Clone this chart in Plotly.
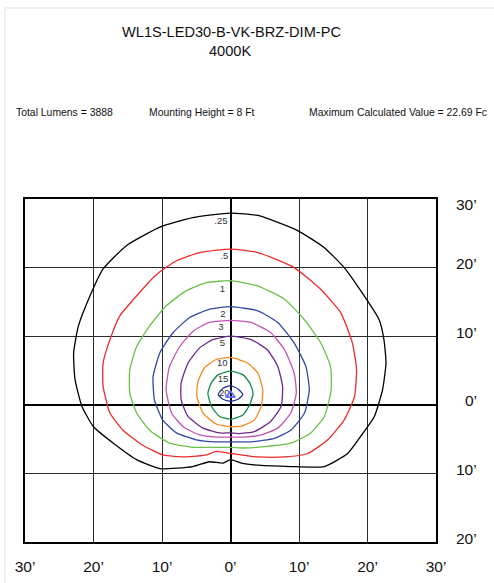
import plotly.graph_objects as go

# ---------------- data ----------------
title_line1 = "WL1S-LED30-B-VK-BRZ-DIM-PC"
title_line2 = "4000K"
info_texts = ["Total Lumens = 3888", "Mounting Height = 8 Ft", "Maximum Calculated Value = 22.69 Fc"]

x_tick_vals = [-30, -20, -10, 0, 10, 20, 30]
x_tick_text = ["30’", "20’", "10’", "0’", "10’", "20’", "30’"]
y_tick_vals = [30, 20, 10, 0, -10, -20]
y_tick_text = ["30’", "20’", "10’", "0’", "10’", "20’"]

contour_levels = [".25", ".5", "1", "2", "3", "5", "10", "15", "20"]
contour_colors = ["#000000", "#ee2a2a", "#6cc04a", "#3347a6", "#c055b4",
                  "#6a2a8c", "#f7891f", "#138a4a", "#25309a"]

c025_x = [0, -5.5, -10.3, -15.2, -18.6, -20.5, -22.2, -22.9, -22.7, -21.7, -20.0, -17.1, -13.7,
          -10.3, -5.5, -3.1, -1.1, 0, 1.6, 4.0, 8.8, 13.7, 17.1, 19.0, 21.0, 22.2, 22.7, 22.4,
          21.7, 19.5, 16.6, 13.7, 9.8, 4.0, 0]
c025_y = [27.95, 27.3, 25.9, 23.2, 19.8, 15.9, 11.5, 7.6, 3.7, -0.2, -3.2, -5.6, -8.0,
          -9.3, -9.0, -8.3, -8.5, -8.0, -8.5, -8.8, -9.0, -9.0, -7.1, -4.6, -1.7, 2.2, 6.1, 9.5,
          12.4, 15.9, 20.0, 22.9, 25.4, 27.6, 27.95]

c05_x = [0, -4.5, -7.9, -10.8, -13.7, -16.2, -17.6, -18.6, -18.6, -17.6, -15.7, -12.8, -9.9,
         -6.5, -3.5, -2.1, 0, 1.6, 4.0, 7.9, 11.3, 14.2, 16.6, 18.1, 18.4, 17.8, 16.1, 13.2,
         9.3, 4.0, 0]
c05_y = [22.7, 22.2, 21.0, 19.0, 15.9, 12.9, 9.5, 6.1, 2.7, -1.2, -3.7, -5.9, -7.3,
         -7.6, -7.3, -6.8, -7.1, -7.3, -7.6, -7.6, -7.1, -5.1, -2.2, 1.2, 5.1, 9.0, 13.4, 16.8,
         20.0, 22.2, 22.7]

c1_x = [0, -3.5, -6.5, -9.4, -11.8, -13.7, -14.7, -14.7, -13.7, -11.8, -8.9, -5.5, -2.1, 0,
        2.0, 5.0, 8.8, 11.7, 13.7, 14.7, 14.6, 13.2, 10.8, 7.9, 4.0, 0]
c1_y = [18.1, 17.8, 16.6, 14.4, 11.5, 8.5, 5.1, 1.7, -1.2, -3.7, -5.6, -6.2, -6.2, -6.2,
        -6.3, -6.1, -5.6, -4.1, -1.7, 2.2, 5.6, 9.0, 12.4, 15.4, 17.3, 18.1]

c2_x = [0, -3.1, -6.0, -8.4, -10.3, -11.3, -11.1, -9.9, -7.9, -5.0, -2.1, 0, 3.0, 6.4, 8.8,
        10.8, 11.5, 11.0, 9.3, 6.9, 4.0, 0]
c2_y = [14.3, 13.9, 12.7, 10.5, 7.6, 4.1, 0.7, -2.2, -4.1, -5.1, -5.4, -5.4, -5.4, -4.9, -3.7,
        -1.2, 2.2, 5.6, 9.0, 12.0, 13.7, 14.3]

c3_x = [0, -3.1, -5.5, -7.4, -8.9, -9.4, -8.6, -6.9, -4.5, -2.1, 0, 2.0, 4.5, 6.9, 8.8, 9.6,
        9.3, 7.9, 5.9, 3.0, 0]
c3_y = [12.3, 12.0, 10.7, 8.5, 5.6, 2.2, -1.2, -3.2, -4.4, -4.7, -4.7, -4.7, -4.4, -3.4, -1.2,
        1.7, 4.6, 8.0, 10.5, 12.0, 12.3]

c5_x = [0, -2.6, -4.5, -6.2, -7.2, -7.2, -6.2, -4.0, -1.6, 0, 1.1, 3.5, 5.9, 7.4, 7.6, 6.9,
        5.4, 3.0, 0]
c5_y = [10.0, 9.5, 8.3, 6.1, 3.2, 0.7, -1.7, -3.4, -4.1, -4.1, -4.2, -3.9, -2.4, -0.2, 2.7,
        5.6, 8.0, 9.5, 10.0]

c10_x = [0, -2.1, -3.8, -4.8, -4.9, -4.0, -2.1, 0, 1.6, 3.5, 4.5, 4.7, 4.0, 2.5, 0]
c10_y = [6.9, 6.6, 5.4, 3.2, 1.2, -1.2, -2.8, -3.2, -3.1, -2.2, -0.2, 2.2, 4.6, 6.1, 6.9]

c15_x = [0, -1.8, -2.8, -3.3, -2.8, -1.6, 0, 1.8, 2.8, 3.3, 2.8, 1.8, 0]
c15_y = [4.9, 4.4, 3.2, 1.7, -0.2, -1.7, -2.1, -1.5, 0, 1.7, 3.2, 4.4, 4.9]

c20_x = [0, -1.1, -1.8, -1.1, 0, 1.1, 1.8, 1.1, 0]
c20_y = [2.8, 2.4, 1.5, 0.8, 0.5, 0.8, 1.5, 2.3, 2.8]

label_x = [-1.4, -0.9, -1.2, -1.1, -1.4, -1.2, -1.2, -1.1, -0.9]
label_y = [26.7, 21.6, 16.8, 13.2, 11.2, 8.9, 6.0, 3.7, 1.7]

luminaire_x = [0]
luminaire_y = [1.4]

# ---------------- figure ----------------
W, H = 494, 583
L, R, T, B = 25, 436, 199, 542   # plot area in pixels


def px_to_paper_x(px):
    return (px - L) / (R - L)


def px_to_paper_y(py):
    return (B - py) / (B - T)


contours_x = [c025_x, c05_x, c1_x, c2_x, c3_x, c5_x, c10_x, c15_x, c20_x]
contours_y = [c025_y, c05_y, c1_y, c2_y, c3_y, c5_y, c10_y, c15_y, c20_y]

fig = go.Figure()
for xs, ys, col, lev in zip(contours_x, contours_y, contour_colors, contour_levels):
    fig.add_trace(go.Scatter(x=xs, y=ys, mode="lines",
                             line=dict(color=col, width=1.3, shape="spline", smoothing=0.5),
                             name=lev, hoverinfo="skip"))

fig.add_trace(go.Scatter(x=label_x, y=label_y, mode="text", text=contour_levels,
                         textfont=dict(family="Liberation Sans Narrow, Arial", size=9.5, color="#333333"),
                         hoverinfo="skip"))

fig.add_trace(go.Scatter(x=luminaire_x, y=luminaire_y, mode="markers",
                         marker=dict(symbol="triangle-up-open", size=8,
                                     line=dict(color="#000000", width=1.8)),
                         hoverinfo="skip"))

ann = []
ann.append(dict(text=title_line1, x=px_to_paper_x(231.7), y=px_to_paper_y(31.7),
                xref="paper", yref="paper", showarrow=False, xanchor="center", yanchor="middle",
                font=dict(family="Liberation Sans, Arial", size=14.6, color="#111111")))
ann.append(dict(text=title_line2, x=px_to_paper_x(230), y=px_to_paper_y(51),
                xref="paper", yref="paper", showarrow=False, xanchor="center", yanchor="middle",
                font=dict(family="Liberation Sans, Arial", size=14.6, color="#111111")))
for txt, px in zip(info_texts, [14, 146.7, 306.7]):
    ann.append(dict(text=txt, x=px_to_paper_x(px), y=px_to_paper_y(112),
                    xref="paper", yref="paper", showarrow=False, xanchor="left", yanchor="middle",
                    font=dict(family="Liberation Sans, Arial", size=10.4, color="#111111")))
top_y = max(y_tick_vals)
for v, t in zip(y_tick_vals, y_tick_text):
    ann.append(dict(text=t, x=px_to_paper_x(479), y=v, xref="paper", yref="y",
                    showarrow=False, xanchor="right", yanchor="middle",
                    yshift=(-5 if v == top_y else 4),
                    font=dict(family="Liberation Sans Narrow, Arial", size=15.5, color="#111111")))

fig.update_layout(
    width=W, height=H,
    margin=dict(l=L, r=W - R, t=T, b=H - B, pad=0, autoexpand=False),
    paper_bgcolor="white", plot_bgcolor="white",
    showlegend=False,
    annotations=ann,
    shapes=[dict(type="rect", xref="paper", yref="paper",
                 x0=px_to_paper_x(5), x1=px_to_paper_x(520),
                 y0=px_to_paper_y(620), y1=px_to_paper_y(8),
                 line=dict(color="#eef1f0", width=2), fillcolor="rgba(0,0,0,0)", layer="below")],
)

fig.update_xaxes(range=[-30, 30], tickvals=x_tick_vals, ticktext=x_tick_text,
                 showgrid=True, gridcolor="#2b2b2b", gridwidth=1.3,
                 zeroline=True, zerolinecolor="#000000", zerolinewidth=2,
                 showline=True, linecolor="#000000", linewidth=1.6, mirror=True,
                 ticks="outside", ticklen=10, tickcolor="rgba(0,0,0,0)",
                 tickfont=dict(family="Liberation Sans Narrow, Arial", size=15.5, color="#111111"),
                 automargin=False, fixedrange=True)
fig.update_yaxes(range=[-20, 30], tickvals=y_tick_vals, showticklabels=False,
                 showgrid=True, gridcolor="#2b2b2b", gridwidth=1.3,
                 zeroline=True, zerolinecolor="#000000", zerolinewidth=2,
                 showline=True, linecolor="#000000", linewidth=1.6, mirror=True,
                 automargin=False, fixedrange=True)

fig.write_html("out.html", config={"displayModeBar": False},
               post_script="document.body.style.margin='0';document.body.style.overflow='hidden';")
